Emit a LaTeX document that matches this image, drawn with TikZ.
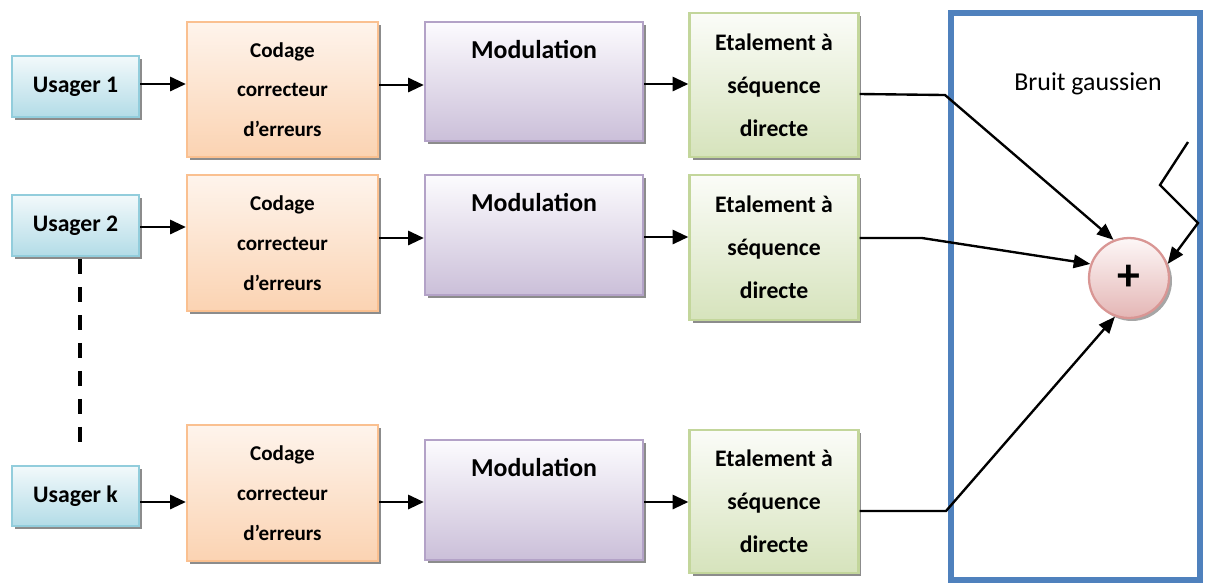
\documentclass[tikz,border=0pt]{standalone}
\usepackage{fontspec}
\setmainfont{Carlito}
\usetikzlibrary{arrows.meta,shadows}

\definecolor{usrDraw}{HTML}{92CDDC}
\definecolor{usrTop}{HTML}{F2F9FB}
\definecolor{usrBot}{HTML}{B3DCE7}
\definecolor{codDraw}{HTML}{FAC090}
\definecolor{codTop}{HTML}{FEF4EC}
\definecolor{codBot}{HTML}{FBD3B2}
\definecolor{modDraw}{HTML}{B3A2C7}
\definecolor{modTop}{HTML}{FCFBFE}
\definecolor{modBot}{HTML}{CBBFD9}
\definecolor{etaDraw}{HTML}{C3D69B}
\definecolor{etaTop}{HTML}{FBFCF8}
\definecolor{etaBot}{HTML}{D6E3BC}
\definecolor{sumDraw}{HTML}{D99694}
\definecolor{sumTop}{HTML}{FDF7F7}
\definecolor{sumBot}{HTML}{E4B6B5}
\definecolor{chanBlue}{HTML}{4F81BD}

\tikzset{
  box/.style={draw, line width=1.3pt, align=center, inner sep=0pt,
    general shadow={shadow xshift=1.7pt, shadow yshift=-1.7pt, fill=black!45}},
  user/.style={box, draw=usrDraw, top color=usrTop, bottom color=usrBot,
    minimum width=2.54cm, minimum height=1.22cm,
    font=\bfseries\fontsize{13.5}{16}\selectfont},
  coder/.style={box, draw=codDraw, top color=codTop, bottom color=codBot,
    minimum width=3.82cm, minimum height=2.72cm,
    font=\bfseries\fontsize{12}{22.6}\selectfont},
  modu/.style={box, draw=modDraw, top color=modTop, bottom color=modBot,
    minimum width=4.36cm, minimum height=2.4cm,
    label={[anchor=base, yshift=-21.4pt, font=\bfseries\fontsize{14.7}{17}\selectfont]north:Modulation}},
  spread/.style={box, draw=etaDraw, top color=etaTop, bottom color=etaBot,
    minimum width=3.38cm, minimum height=2.88cm,
    font=\bfseries\fontsize{13.5}{24.6}\selectfont},
  arr/.style={line width=1.6pt, -{Triangle[length=9pt, width=8pt]}},
  link/.style={line width=1.35pt, -{Triangle[length=9.5pt, width=7.6pt]}},
  dashline/.style={line width=2.3pt, dash pattern=on 8.5pt off 7.4pt},
}

\begin{document}
\begin{tikzpicture}[x=0.02cm, y=-0.02cm]
\useasboundingbox (0,0) rectangle (1207,583);

% channel frame
\node[draw=chanBlue, line width=3.4pt, minimum width=4.98cm, minimum height=11.34cm,
      inner sep=0pt] (chan) at (1075.5,296.5) {};
\node[font=\fontsize{14.7}{17}\selectfont] (noise) at (1088,84) {Bruit gaussien};

% users
\node[user] (u1) at (75.5,86.5) {Usager 1};
\node[user] (u2) at (75.5,225.5) {Usager 2};
\node[user, minimum height=1.2cm] (u3) at (75.5,496) {Usager k};

% channel coding
\node[coder, minimum height=2.7cm] (c1) at (282.5,89.5) {Codage\\correcteur\\d’erreurs};
\node[coder] (c2) at (282.5,243) {Codage\\correcteur\\d’erreurs};
\node[coder] (c3) at (282.5,493) {Codage\\correcteur\\d’erreurs};

% modulation
\node[modu, minimum height=2.38cm] (m1) at (534,81.5) {};
\node[modu] (m2) at (534,235) {};
\node[modu] (m3) at (534,500) {};

% direct-sequence spreading
\node[spread] (e1) at (774,85) {Etalement à\\séquence\\directe};
\node[spread, minimum height=2.9cm] (e2) at (774,247.5) {Etalement à\\séquence\\directe};
\node[spread, minimum height=2.86cm] (e3) at (774,501.5) {Etalement à\\séquence\\directe};

% adder
\node[circle, draw=sumDraw, line width=1.3pt, top color=sumTop, bottom color=sumBot,
      minimum size=1.6cm, inner sep=0pt,
      general shadow={shadow xshift=1.7pt, shadow yshift=-1.7pt, fill=black!35},
      font=\bfseries\fontsize{26}{28}\selectfont] (sum) at (1129,278) {+};

% user to coder
\draw[arr] (u1.east |- 0,84) -- (c1.west |- 0,84);
\draw[arr] (u2.east |- 0,227) -- (c2.west |- 0,227);
\draw[arr] (u3.east |- 0,502) -- (c3.west |- 0,502);

% coder to modulator
\draw[arr] (c1.east |- 0,85) -- (m1.west |- 0,85);
\draw[arr] (c2.east |- 0,238) -- (m2.west |- 0,238);
\draw[arr] (c3.east |- 0,502) -- (m3.west |- 0,502);

% modulator to spreader
\draw[arr] (m1.east |- 0,84) -- (e1.west |- 0,84);
\draw[arr] (m2.east |- 0,237) -- (e2.west |- 0,237);
\draw[arr] (m3.east |- 0,502) -- (e3.west |- 0,502);

% users 2 .. k
\coordinate (d0) at ([shift={(4.5,2)}]u2.south);
\coordinate (d1) at ([shift={(4.5,-19)}]u3.north);
\draw[dashline] (d0) -- (d1);

% spreaders to adder
\coordinate (k1) at (945,95);
\coordinate (k2) at (922,238);
\coordinate (k3) at (946,511);
\draw[link] (e1.east |- 0,94) -- (k1) -- (sum.112);
\draw[link] (e2.east |- 0,238) -- (k2) -- (sum.160);
\draw[link] (e3.east |- 0,511) -- (k3) -- (sum.250);

% noise input
\coordinate (n0) at (1188,142);
\coordinate (n1) at (1160,185);
\coordinate (n2) at (1198,223);
\draw[link] (n0) -- (n1) -- (n2) -- (sum.20);

\end{tikzpicture}
\end{document}
